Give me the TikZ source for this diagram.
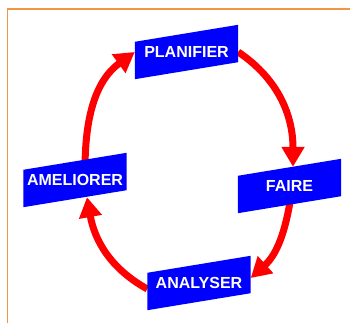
\documentclass[tikz,border=0pt]{standalone}
\usepackage{fontspec}
\setmainfont{Liberation Sans}
\usetikzlibrary{arrows.meta}
\definecolor{framecol}{RGB}{240,150,70}
\pgfdeclarelayer{ring}
\pgfdeclarelayer{slab}
\pgfsetlayers{ring,slab,main}

\begin{document}
\begin{tikzpicture}[x=1pt,y=1pt]
    \tikzset{stage/.style = {shape=rectangle,minimum width=103pt,minimum height=20pt,
        inner sep=0pt,text=white,font=\fontsize{16}{19}\selectfont\bfseries}}
    \tikzset{slab/.style = {fill=blue}}
    \tikzset{edge/.style = {draw=red,line width=7pt,-{Triangle[length=20pt,width=22pt]}}}
    \useasboundingbox (0,0) rectangle (350,323);
    % frame
    \draw[framecol,line width=1.2pt] (350,314) -- (7.5,314) -- (7.5,0);
    % vertices
    \node[stage] (plan) at (186.5,271) {PLANIFIER};
    \node[stage] (faire) at (289.5,137) {FAIRE};
    \node[stage] (anal) at (199,40) {ANALYSER};
    \node[stage] (amel) at (75,143) {AMELIORER};
    % slanted boxes
    \begin{pgfonlayer}{slab}
    \foreach \n in {plan,faire,anal,amel}
        \fill[slab] ([yshift=-17pt]\n.south west) -- (\n.north west)
            -- ([yshift=17pt]\n.north east) -- (\n.south east) -- cycle;
    \end{pgfonlayer}
    %edges
    \begin{pgfonlayer}{ring}
    \draw[edge] ([xshift=10pt]amel.north) to[out=90,in=216] (plan.west);
    \draw[edge] (plan.east) to[out=-34,in=90] ([shift={(3.5pt,9pt)}]faire.north);
    \draw[edge] ([xshift=1.5pt]faire.south) to[out=-99,in=42] ([yshift=5pt]anal.east);
    \draw[edge] ([yshift=-6pt]anal.west) to[out=151,in=-80] ([xshift=12pt,yshift=-7pt]amel.south);
    \end{pgfonlayer}
\end{tikzpicture}
\end{document}
